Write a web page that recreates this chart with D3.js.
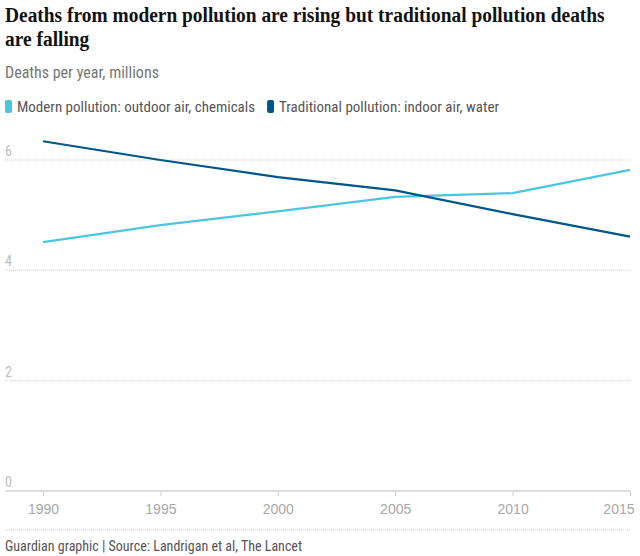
<!DOCTYPE html>
<html><head><meta charset="utf-8">
<script src="https://cdn.jsdelivr.net/npm/d3@7"></script>
<style>
body{margin:0;background:#fff;}
svg text{font-family:"Liberation Sans Narrow","Roboto Condensed","Liberation Sans",sans-serif;}
</style></head>
<body><svg id="c" width="640" height="556"></svg>
<script>
const years = [1990, 1995, 2000, 2005, 2010, 2015];
const modern = [4.51, 4.82, 5.07, 5.33, 5.40, 5.82];
const traditional = [6.34, 6.00, 5.69, 5.45, 5.02, 4.61];
const yTicks = [0, 2, 4, 6];
const seriesNames = ["Modern pollution: outdoor air, chemicals", "Traditional pollution: indoor air, water"];
const colors = ["#4bc6df", "#005689"];
const titleLines = ["Deaths from modern pollution are rising but traditional pollution deaths", "are falling"];

const svg = d3.select("#c");
const tg = svg.append("g");
const tts = titleLines.map((s,i)=> tg.append("text").attr("x",0).attr("y",22+i*24).text(s)
  .style("font-family","'Liberation Serif',serif").style("font-weight","bold").style("font-size","21px").attr("fill","#121212"));
const natural = tts[0].node().getComputedTextLength();
const f = 600/natural;
tg.attr("transform",`translate(5,0) scale(${f},1)`);

svg.append("text").attr("x",5).attr("y",78).text("Deaths per year, millions").style("font-size","16px").attr("fill","#767676");

// legend
const lg = svg.append("g");
let lx = 5;
seriesNames.forEach((n,i)=>{
  lg.append("rect").attr("x",lx).attr("y",100).attr("width",7).attr("height",13).attr("rx",2).attr("fill",colors[i]);
  const t = lg.append("text").attr("x",lx+12).attr("y",112).text(n).style("font-size","15px").attr("fill","#555");
  lx += 12 + t.node().getComputedTextLength() + 12;
});

const x = d3.scaleLinear().domain([1990,2015]).range([43,630]);
const y = d3.scaleLinear().domain([0,6]).range([491,160]);

// gridlines
yTicks.filter(d=>d>0).forEach(d=>{
  svg.append("line").attr("x1",5).attr("x2",630).attr("y1",y(d)).attr("y2",y(d))
    .attr("stroke","#cfcfcf").attr("stroke-width",1).attr("stroke-dasharray","1,1");
});
yTicks.forEach(d=>{
  svg.append("text").attr("x",5).attr("y",y(d)-4).text(d).style("font-size","14px").attr("fill","#bdbdbd");
});

// x axis
const xAxis = d3.axisBottom(x).tickValues(years).tickFormat(d3.format("d")).tickSize(5).tickSizeOuter(0);
const gx = svg.append("g").attr("transform",`translate(0,${y(0)})`).call(xAxis);
gx.select(".domain").remove();
gx.append("line").attr("x1",5).attr("x2",630).attr("y1",0).attr("y2",0).attr("stroke","#dcdcdc").attr("stroke-width",2);
gx.selectAll(".tick line").attr("stroke","#cfcfcf");
gx.selectAll(".tick text").attr("fill","#a8a8a8").style("font-size","14px").style("font-family","'Liberation Sans Narrow','Liberation Sans',sans-serif").attr("dy","1.05em");
gx.selectAll(".tick text").filter(d=>d===2015).attr("text-anchor","end").attr("dx","4");

// lines
const line = d3.line().x((d,i)=>x(years[i])).y(d=>y(d));
[modern, traditional].forEach((s,i)=>{
  svg.append("path").datum(s).attr("d",line).attr("fill","none").attr("stroke",colors[i]).attr("stroke-width",2.2);
});

// footer
svg.append("line").attr("x1",5).attr("x2",630).attr("y1",530).attr("y2",530).attr("stroke","#cfcfcf").attr("stroke-dasharray","1,1");
svg.append("text").attr("x",5).attr("y",551).text("Guardian graphic | Source: Landrigan et al, The Lancet").style("font-size","14px").attr("fill","#555");
</script></body></html>
